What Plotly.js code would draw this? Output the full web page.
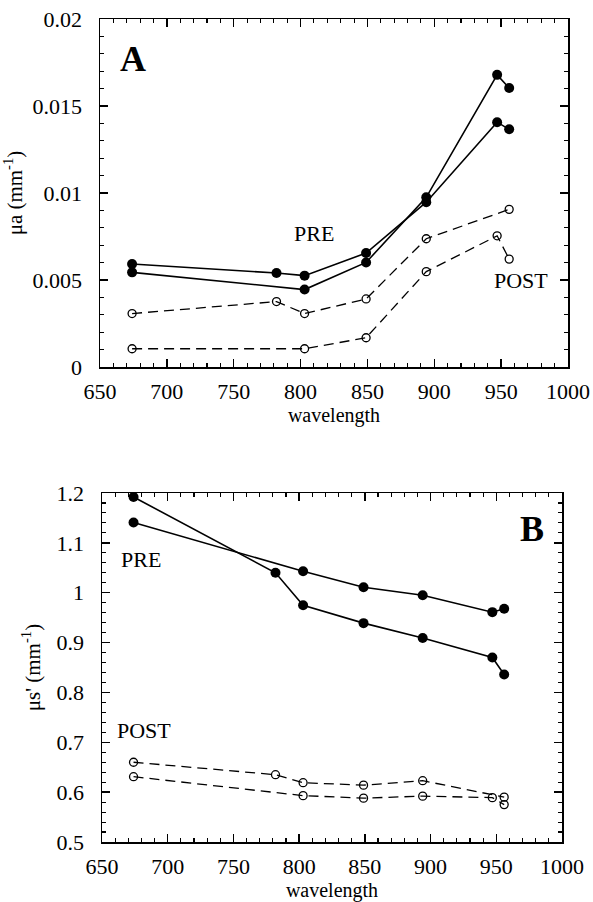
<!DOCTYPE html>
<html>
<head>
<meta charset="utf-8">
<script src="https://cdn.plot.ly/plotly-3.0.1.min.js"></script>
<style>html,body{margin:0;padding:0;background:#fff;}#chart{width:593px;height:902px;}</style>
</head>
<body>
<div id="chart"></div>
<script>
// ---- Panel A: absorption coefficient (mm^-1) ----
const wlA_pre1 = [674, 782, 803, 849, 894, 947, 956];
const muA_pre1 = [0.00592, 0.00540, 0.00525, 0.00655, 0.00947, 0.01407, 0.01366];
const wlA_pre2 = [674, 803, 849, 894, 947, 956];
const muA_pre2 = [0.00544, 0.00445, 0.00601, 0.00975, 0.01679, 0.01603];
const wlA_post1 = [674, 782, 803, 849, 894, 956];
const muA_post1 = [0.00307, 0.00376, 0.00307, 0.00391, 0.00737, 0.00906];
const wlA_post2 = [674, 803, 849, 894, 947, 956];
const muA_post2 = [0.00105, 0.00105, 0.00168, 0.00548, 0.00754, 0.00620];

// ---- Panel B: reduced scattering coefficient (mm^-1) ----
const wlB_pre1 = [674, 782, 803, 849, 894, 947, 956];
const muB_pre1 = [1.192, 1.040, 0.975, 0.939, 0.909, 0.870, 0.836];
const wlB_pre2 = [674, 803, 849, 894, 947, 956];
const muB_pre2 = [1.141, 1.043, 1.011, 0.995, 0.961, 0.968];
const wlB_post1 = [674, 782, 803, 849, 894, 956];
const muB_post1 = [0.660, 0.635, 0.619, 0.614, 0.623, 0.590];
const wlB_post2 = [674, 803, 849, 894, 947, 956];
const muB_post2 = [0.631, 0.593, 0.588, 0.592, 0.589, 0.575];

const FONT = '"Liberation Serif", serif';
const W = 593, H = 902;

function pre(x, y, xa, ya) {
  return {x: x, y: y, xaxis: xa, yaxis: ya, type: 'scatter', mode: 'lines+markers',
    line: {color: '#000', width: 1.6},
    marker: {symbol: 'circle', size: 10, color: '#000'}, showlegend: false, hoverinfo: 'x+y'};
}
function post(x, y, xa, ya) {
  return {x: x, y: y, xaxis: xa, yaxis: ya, type: 'scatter', mode: 'lines+markers',
    line: {color: '#000', width: 1.3, dash: '10px,6px'},
    marker: {symbol: 'circle-open', size: 8, color: '#000', line: {width: 1.3, color: '#000'}},
    showlegend: false, hoverinfo: 'x+y'};
}

const data = [
  pre(wlA_pre1, muA_pre1, 'x', 'y'),
  pre(wlA_pre2, muA_pre2, 'x', 'y'),
  post(wlA_post1, muA_post1, 'x', 'y'),
  post(wlA_post2, muA_post2, 'x', 'y'),
  pre(wlB_pre1, muB_pre1, 'x2', 'y2'),
  pre(wlB_pre2, muB_pre2, 'x2', 'y2'),
  post(wlB_post1, muB_post1, 'x2', 'y2'),
  post(wlB_post2, muB_post2, 'x2', 'y2')
];

function axisBase(standoff) {
  return {
    showline: true, linecolor: '#000', linewidth: 1.5, mirror: 'allticks',
    ticks: 'inside', ticklen: 8, tickwidth: 1.3, tickcolor: '#000',
    showgrid: false, zeroline: false,
    tickfont: {family: FONT, size: 22, color: '#000'},
    ticklabelstandoff: standoff
  };
}

const xaxis = Object.assign(axisBase(4), {
  domain: [100 / W, 568 / W], anchor: 'y', range: [650, 1000], dtick: 50, tick0: 650,
  minor: {dtick: 10, tick0: 650, ticks: 'inside', ticklen: 4, tickwidth: 1.1, tickcolor: '#000'},
  title: {text: 'wavelength', font: {family: FONT, size: 20, color: '#000'}, standoff: 2}
});
const yaxis = Object.assign(axisBase(12), {
  domain: [1 - 367 / H, 1 - 19 / H], anchor: 'x', range: [0, 0.02], dtick: 0.005, tick0: 0,
  minor: {dtick: 0.001, tick0: 0, ticks: 'inside', ticklen: 4, tickwidth: 1.1, tickcolor: '#000'},
  title: {text: 'μa (mm<sup>-1</sup>)', font: {family: FONT, size: 21, color: '#000'}, standoff: 6}
});
const xaxis2 = Object.assign(axisBase(4), {
  domain: [102 / W, 562 / W], anchor: 'y2', range: [650, 1000], dtick: 50, tick0: 650,
  minor: {dtick: 10, tick0: 650, ticks: 'inside', ticklen: 4, tickwidth: 1.1, tickcolor: '#000'},
  title: {text: 'wavelength', font: {family: FONT, size: 20, color: '#000'}, standoff: 2}
});
const yaxis2 = Object.assign(axisBase(12), {
  domain: [1 - 842 / H, 1 - 493 / H], anchor: 'x2', range: [0.5, 1.2], dtick: 0.1, tick0: 0.5,
  minor: {dtick: 0.02, tick0: 0.5, ticks: 'inside', ticklen: 4, tickwidth: 1.1, tickcolor: '#000'},
  title: {text: "μs' (mm<sup>-1</sup>)", font: {family: FONT, size: 21, color: '#000'}, standoff: 10}
});

function label(text, x, y, xr, yr, size, bold) {
  return {text: bold ? '<b>' + text + '</b>' : text, x: x, y: y, xref: xr, yref: yr,
    showarrow: false, xanchor: 'center', yanchor: 'middle',
    font: {family: FONT, size: size, color: '#000'}};
}

const layout = {
  width: W, height: H,
  margin: {l: 0, r: 0, t: 0, b: 0},
  paper_bgcolor: '#fff', plot_bgcolor: '#fff',
  showlegend: false,
  font: {family: FONT, color: '#000'},
  xaxis: xaxis, yaxis: yaxis, xaxis2: xaxis2, yaxis2: yaxis2,
  annotations: [
    label('A', 675, 0.0177, 'x', 'y', 36, true),
    label('PRE', 810, 0.0077, 'x', 'y', 22, false),
    label('POST', 965, 0.0050, 'x', 'y', 22, false),
    label('B', 977, 1.128, 'x2', 'y2', 36, true),
    label('PRE', 680, 1.066, 'x2', 'y2', 22, false),
    label('POST', 682, 0.723, 'x2', 'y2', 22, false)
  ]
};

Plotly.newPlot('chart', data, layout, {staticPlot: true, displayModeBar: false});
</script>
</body>
</html>
